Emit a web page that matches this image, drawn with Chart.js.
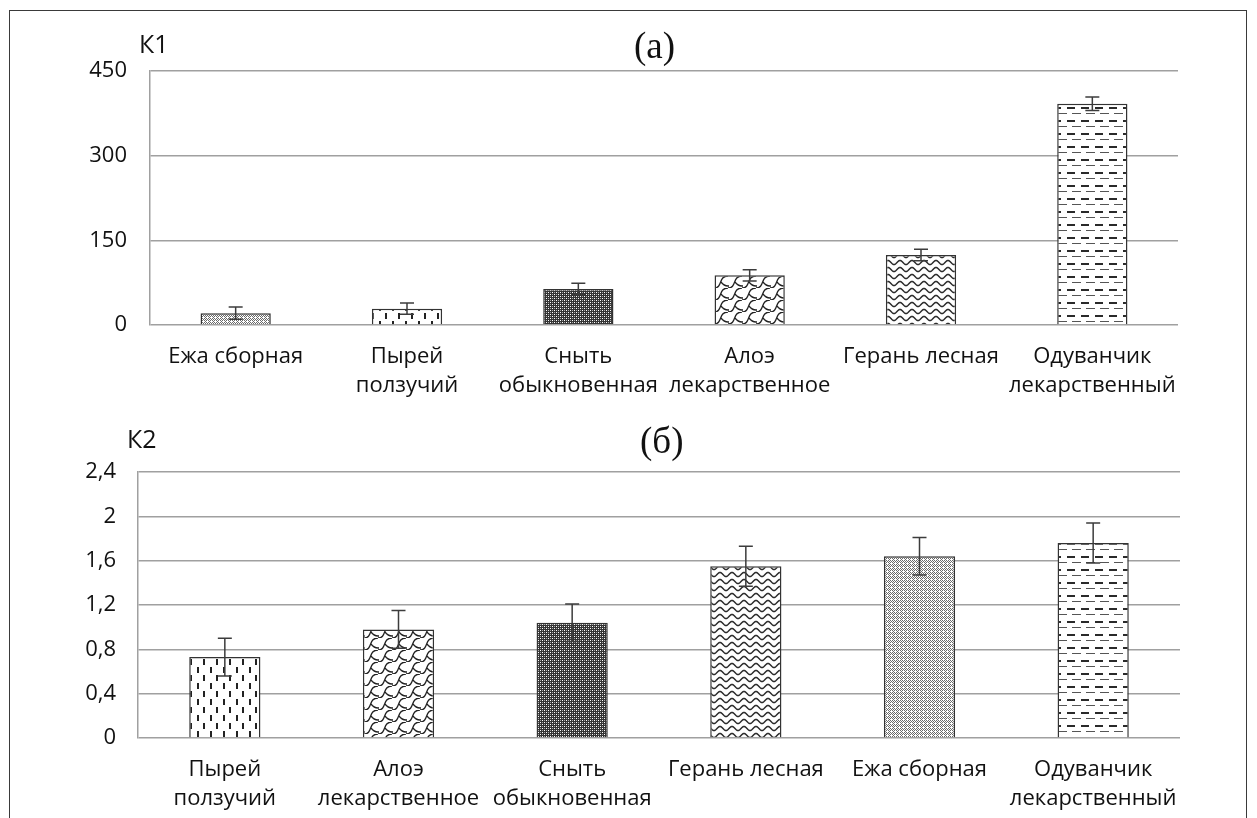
<!DOCTYPE html>
<html lang="ru">
<head>
<meta charset="utf-8">
<script src="https://cdn.jsdelivr.net/npm/chart.js@4.4.1/dist/chart.umd.min.js"></script>
<style>
  html, body { margin: 0; padding: 0; background: #fff; }
  body { width: 1257px; height: 818px; position: relative; overflow: hidden; }
  .frame { position: absolute; left: 9px; top: 10px; width: 1238px; height: 900px;
           border: 1.5px solid #3a3a3a; box-sizing: border-box; }
  canvas { position: absolute; left: 0; }
  .axis-name { position: absolute; font-family: "Open Sans", sans-serif; font-size: 25px; color: #111; line-height: 1; }
  .panel-title { position: absolute; font-family: "Liberation Serif", "Times New Roman", serif; font-size: 37px; color: #111; line-height: 1; }
</style>
</head>
<body>
<div class="frame"></div>
<canvas id="chartK1" width="1257" height="410" style="top:0"></canvas>
<canvas id="chartK2" width="1257" height="408" style="top:410px"></canvas>
<div class="axis-name" style="left:139px; top:31px">К1</div>
<div class="panel-title" style="left:634px; top:27px">(а)</div>
<div class="axis-name" style="left:127px; top:426px">К2</div>
<div class="panel-title" style="left:640px; top:422px">(б)</div>

<script>
// ---- data ----
const k1Categories = [["Ежа сборная"], ["Пырей", "ползучий"], ["Сныть", "обыкновенная"],
                      ["Алоэ", "лекарственное"], ["Герань лесная"], ["Одуванчик", "лекарственный"]];
const k1Values = [21, 29, 64, 88, 124, 392];
const k1Errors = [11, 10, 10, 10, 10, 12];
const k1Ticks = [0, 150, 300, 450];

const k2Categories = [["Пырей", "ползучий"], ["Алоэ", "лекарственное"], ["Сныть", "обыкновенная"],
                      ["Герань лесная"], ["Ежа сборная"], ["Одуванчик", "лекарственный"]];
const k2Values = [0.73, 0.98, 1.04, 1.55, 1.64, 1.76];
const k2Errors = [0.17, 0.17, 0.17, 0.18, 0.17, 0.18];
const k2Ticks = [0, 0.4, 0.8, 1.2, 1.6, 2, 2.4];

// ---- hatch fills, one per species ----
function tile(w, h, draw) {
  const c = document.createElement('canvas');
  c.width = w; c.height = h;
  const g = c.getContext('2d');
  g.fillStyle = '#fff';
  g.fillRect(0, 0, w, h);
  draw(g);
  return g.createPattern(c, 'repeat');
}

const fills = {
  "Ежа сборная": tile(4, 4, g => {
    g.fillStyle = '#6a6a6a';
    [[0,0],[2,0],[1,1],[3,1],[0,2],[2,2],[1,3],[3,3]].forEach(([x,y]) => g.fillRect(x, y, 1, 1));
    g.fillStyle = '#ffffff';
    g.fillRect(3, 1, 1, 1);
  }),
  "Пырей ползучий": tile(13, 16, g => {
    g.fillStyle = '#222';
    g.fillRect(2, 1, 2, 6);
    g.fillRect(8, 9, 2, 6);
  }),
  "Сныть обыкновенная": tile(4, 4, g => {
    g.fillStyle = '#333';
    g.fillRect(0, 0, 4, 4);
    g.fillStyle = '#ffffff';
    g.fillRect(0, 0, 1, 1); g.fillRect(2, 2, 1, 1);
    g.fillStyle = '#a8a8a8';
    g.fillRect(2, 0, 1, 1); g.fillRect(0, 2, 1, 1);
  }),
  "Алоэ лекарственное": tile(14, 12, g => {
    g.strokeStyle = '#222';
    g.lineWidth = 1.3;
    g.beginPath();
    g.moveTo(0, 12);
    g.bezierCurveTo(9, 12, 4, 0, 14, 0);
    g.moveTo(7, 6);
    g.quadraticCurveTo(10, 10, 14, 10);
    g.moveTo(0, 10);
    g.lineTo(1, 10);
    g.stroke();
  }),
  "Герань лесная": tile(12, 7, g => {
    g.strokeStyle = '#2a2a2a';
    g.lineWidth = 1.5;
    g.beginPath();
    for (let x = 0; x <= 12; x += 0.5) {
      const y = 3.5 - 2 * Math.cos(2 * Math.PI * x / 12);
      if (x === 0) g.moveTo(x, y); else g.lineTo(x, y);
    }
    g.stroke();
  }),
  "Одуванчик лекарственный": tile(14, 13, g => {
    g.fillStyle = '#2a2a2a';
    g.fillRect(3, 3, 8, 2);
    g.fillStyle = '#555';
    g.fillRect(8, 9, 6, 1);
    g.fillRect(0, 9, 3, 1);
  })
};

const gridGray = '#a0a0a0';
const tickFont = { family: "'Open Sans', sans-serif", size: 22 };

// error whiskers drawn through the value scale
const errorBars = {
  id: 'errorBars',
  afterDatasetsDraw(chart, args, opts) {
    const { ctx } = chart;
    const y = chart.scales.y;
    const meta = chart.getDatasetMeta(0);
    const values = chart.data.datasets[0].data;
    ctx.save();
    ctx.strokeStyle = '#3c3c3c';
    ctx.lineWidth = 1.5;
    meta.data.forEach((bar, i) => {
      const v = values[i], e = opts.errors[i];
      const top = y.getPixelForValue(v + e);
      const bot = y.getPixelForValue(v - e);
      const half = 7;
      ctx.beginPath();
      ctx.moveTo(bar.x, top); ctx.lineTo(bar.x, bot);
      ctx.moveTo(bar.x - half, top); ctx.lineTo(bar.x + half, top);
      ctx.moveTo(bar.x - half, bot); ctx.lineTo(bar.x + half, bot);
      ctx.stroke();
    });
    ctx.restore();
  }
};

function buildChart(canvasId, categories, values, errors, ticks, fmt, geom) {
  const names = categories.map(c => c.join(' '));
  return new Chart(document.getElementById(canvasId), {
    type: 'bar',
    data: {
      labels: categories,
      datasets: [{
        data: values,
        backgroundColor: names.map(n => fills[n]),
        borderColor: '#333',
        borderWidth: 1.5,
        barPercentage: 0.41,
        categoryPercentage: 1
      }]
    },
    options: {
      responsive: false,
      animation: false,
      devicePixelRatio: 1,
      layout: { padding: { top: geom.top, left: 0, right: geom.right, bottom: 0 } },
      plugins: {
        legend: { display: false },
        tooltip: { enabled: false },
        errorBars: { errors }
      },
      scales: {
        x: {
          grid: { display: false, drawTicks: false },
          border: { display: false },
          ticks: { color: '#111', font: { ...tickFont, lineHeight: 1.32 }, padding: geom.xPad, maxRotation: 0, autoSkip: false },
          afterFit: s => { s.height = geom.xHeight; }
        },
        y: {
          min: ticks[0],
          max: ticks[ticks.length - 1],
          grid: { color: gridGray, lineWidth: 1.5, drawTicks: false },
          border: { display: true, color: gridGray, width: 1.5 },
          ticks: { color: '#111', font: tickFont, padding: geom.yPad, callback: v => fmt(v) },
          afterBuildTicks: s => { s.ticks = ticks.map(v => ({ value: v })); },
          afterFit: s => { s.width = geom.yWidth; }
        }
      }
    },
    plugins: [errorBars]
  });
}

buildChart('chartK1', k1Categories, k1Values, k1Errors, k1Ticks, v => String(v),
  { top: 71, right: 79, xHeight: 85, yWidth: 150, xPad: 17, yPad: 23 });

buildChart('chartK2', k2Categories, k2Values, k2Errors, k2Ticks,
  v => String(+v.toFixed(1)).replace('.', ','),
  { top: 62, right: 77, xHeight: 80, yWidth: 138, xPad: 17, yPad: 22 });
</script>
</body>
</html>
